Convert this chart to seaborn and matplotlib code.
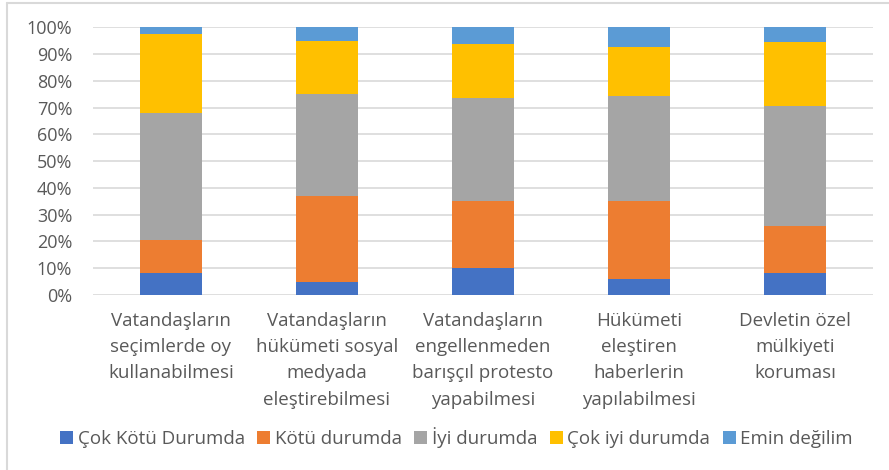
import numpy as np
import pandas as pd
import matplotlib
matplotlib.use("Agg")
import matplotlib.pyplot as plt
import seaborn as sns
from matplotlib.patches import Patch
from matplotlib.lines import Line2D

categories = [
    "Vatandaşların\nseçimlerde oy\nkullanabilmesi",
    "Vatandaşların\nhükümeti sosyal\nmedyada\neleştirebilmesi",
    "Vatandaşların\nengellenmeden\nbarışçıl protesto\nyapabilmesi",
    "Hükümeti\neleştiren\nhaberlerin\nyapılabilmesi",
    "Devletin özel\nmülkiyeti\nkoruması",
]
series_names = ["Çok Kötü Durumda", "Kötü durumda", "İyi durumda", "Çok iyi durumda", "Emin değilim"]
cok_kotu = [8.2, 5.0, 10.2, 5.9, 8.2]
kotu = [12.5, 32.0, 24.8, 29.1, 17.5]
iyi = [47.4, 38.1, 38.7, 39.5, 45.0]
cok_iyi = [29.5, 19.9, 20.2, 18.2, 23.8]
emin = [2.4, 5.0, 6.1, 7.3, 5.5]

COLORS = ["#4472C4", "#ED7D31", "#A5A5A5", "#FFC000", "#5B9BD5"]
TEXT = "#595959"

sns.set_style("white")
plt.rcParams["font.family"] = ["Open Sans", "DejaVu Sans"]

df = pd.DataFrame(dict(zip(series_names, [cok_kotu, kotu, iyi, cok_iyi, emin])), index=categories)
cum = df.cumsum(axis=1)

fig = plt.figure(figsize=(8.89, 4.70), dpi=100)
ax = fig.add_axes([93 / 889, 1 - 295 / 470, 780 / 889, (295 - 27.3) / 470])

# draw cumulative totals from the top down so each layer shows as a stacked segment
for name, color in reversed(list(zip(series_names, COLORS))):
    sns.barplot(x=cum.index, y=cum[name].values, color=color, width=0.4,
                saturation=1, ax=ax, zorder=3, linewidth=0)

ax.set_xlim(-0.5, 4.5)
ax.set_ylim(0, 100)
ax.set_yticks(np.arange(0, 101, 10))
ax.set_yticklabels([f"{v}%" for v in range(0, 101, 10)])
ax.grid(axis="y", color="#d9d9d9", linewidth=1.2, zorder=0)
ax.set_axisbelow(True)
for s in ax.spines.values():
    s.set_visible(False)
ax.tick_params(axis="y", length=0, pad=15, labelsize=13, labelcolor=TEXT)
ax.tick_params(axis="x", length=0, pad=12, labelsize=13.5, labelcolor=TEXT)
for lbl in ax.get_xticklabels():
    lbl.set_linespacing(1.6)
ax.set_xlabel("")
ax.set_ylabel("")

handles = [Patch(facecolor=c, edgecolor="none") for c in COLORS]
fig.legend(handles, series_names, loc="center", bbox_to_anchor=(456.5 / 889, 1 - 438 / 470),
           ncol=5, frameon=False, fontsize=13.5, labelcolor=TEXT,
           handlelength=0.7, handleheight=0.7, handletextpad=0.25, columnspacing=0.65)

# chart border
fig.add_artist(Line2D([7 / 889, 1], [1 - 3 / 470] * 2, color="#d9d9d9", lw=1.5, transform=fig.transFigure))
fig.add_artist(Line2D([7 / 889] * 2, [0, 1 - 3 / 470], color="#d9d9d9", lw=1.5, transform=fig.transFigure))

fig.savefig("out.png", dpi=100)
